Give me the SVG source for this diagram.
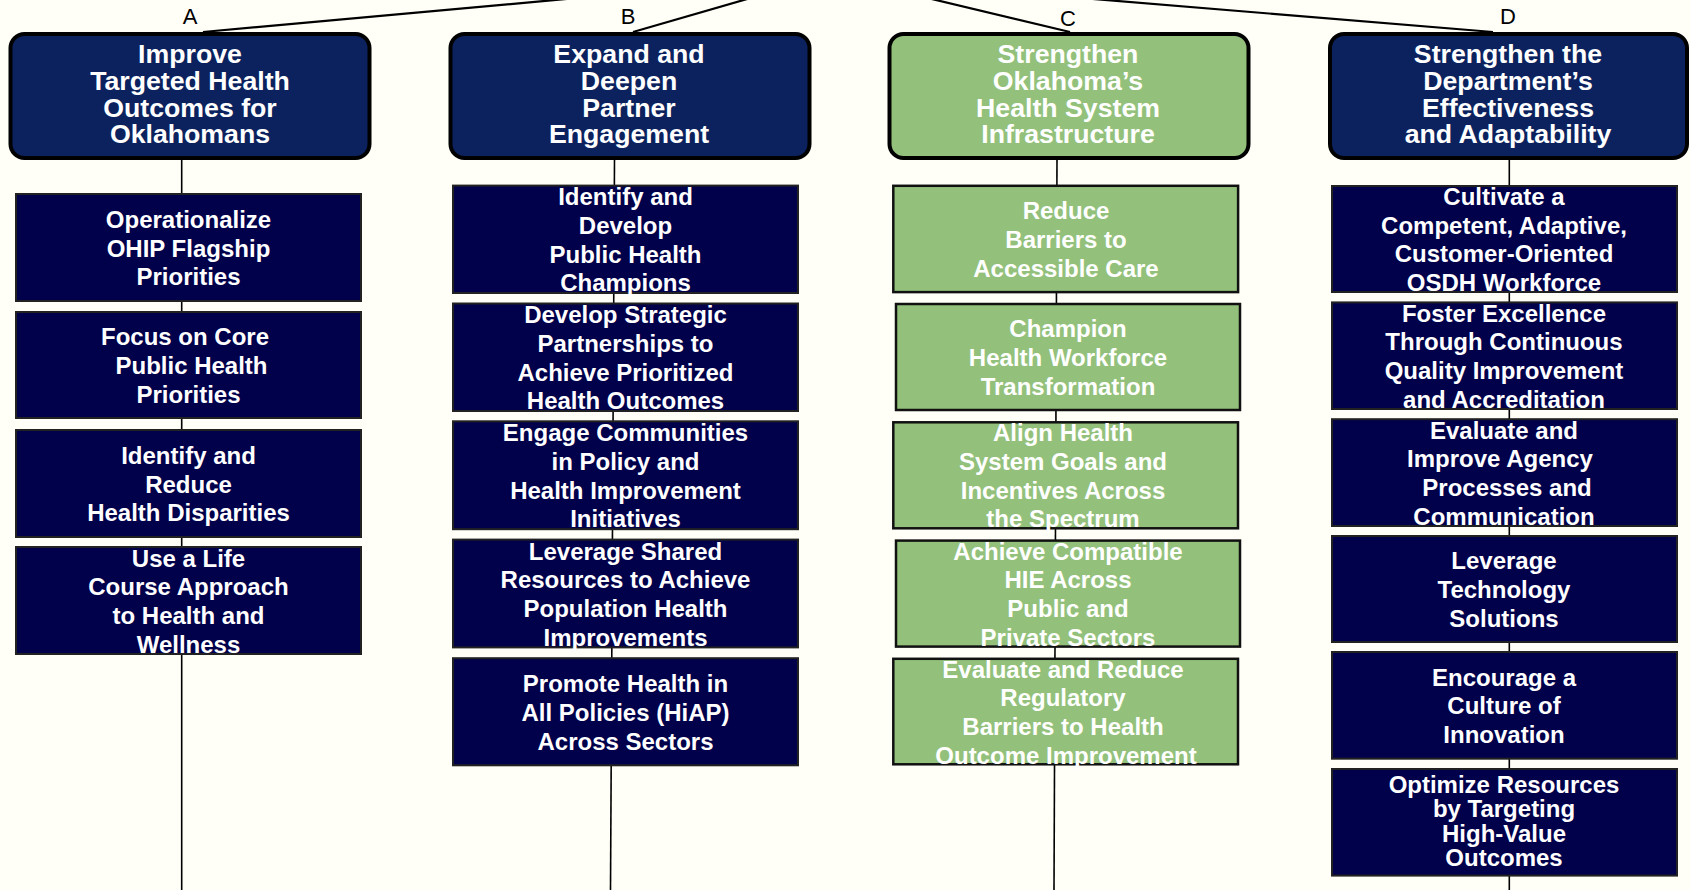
<svg xmlns="http://www.w3.org/2000/svg" width="1690" height="890" viewBox="0 0 1690 890">
<style>
.bg{fill:#FFFFF8}
.hdr{fill:#0B225E;stroke:#000;stroke-width:4}
.hdrg{fill:#93C17B;stroke:#000;stroke-width:4}
.box{fill:#00004B;stroke:#222;stroke-width:2}
.gbox{fill:#93C17B;stroke:#111;stroke-width:2.5}
.ht{font-family:"Liberation Sans",Arial,sans-serif;font-weight:bold;font-size:26.7px;fill:#fff;text-anchor:middle}
.bt{font-family:"Liberation Sans",Arial,sans-serif;font-weight:bold;font-size:24px;fill:#fff;text-anchor:middle}
.lbl{font-family:"Liberation Sans",Arial,sans-serif;font-size:22px;fill:#000;text-anchor:middle}
.conn line{stroke:#000;stroke-width:1.6;fill:none}
.conn .top{stroke-width:2.2}
</style>
<rect class="bg" x="0" y="0" width="1690" height="890"/>
<g id="connectors" class="conn">
<line class="top" x1="203" y1="32" x2="610" y2="-5"/>
<line class="top" x1="633" y1="32" x2="761" y2="-5"/>
<line class="top" x1="1070" y1="32" x2="915" y2="-5"/>
<line class="top" x1="1493" y1="32" x2="1045" y2="-5"/>
<line x1="181.7" y1="159" x2="181.7" y2="890"/>
<line x1="614.5" y1="159" x2="610.5" y2="890"/>
<line x1="1057" y1="159" x2="1054" y2="890"/>
<line x1="1509.3" y1="159" x2="1509.3" y2="890"/>
</g>
<g id="labels">
<text class="lbl" x="190" y="24">A</text>
<text class="lbl" x="628" y="24">B</text>
<text class="lbl" x="1068" y="26">C</text>
<text class="lbl" x="1508" y="24">D</text>
</g>
<g id="goalA">
<rect class="hdr" x="10.5" y="34" width="359" height="124" rx="14"/>
<text class="ht" x="190" y="63.3">Improve</text>
<text class="ht" x="190" y="90">Targeted Health</text>
<text class="ht" x="190" y="116.7">Outcomes for</text>
<text class="ht" x="190" y="143.4">Oklahomans</text>
</g>
<g id="goalB">
<rect class="hdr" x="450.5" y="34" width="359" height="124" rx="14"/>
<text class="ht" x="629" y="63.3">Expand and</text>
<text class="ht" x="629" y="90">Deepen</text>
<text class="ht" x="629" y="116.7">Partner</text>
<text class="ht" x="629" y="143.4">Engagement</text>
</g>
<g id="goalC">
<rect class="hdrg" x="889.5" y="34" width="359" height="124" rx="14"/>
<text class="ht" x="1068" y="63.3">Strengthen</text>
<text class="ht" x="1068" y="90">Oklahoma’s</text>
<text class="ht" x="1068" y="116.7">Health System</text>
<text class="ht" x="1068" y="143.4">Infrastructure</text>
</g>
<g id="goalD">
<rect class="hdr" x="1330" y="34" width="357" height="124" rx="14"/>
<text class="ht" x="1508" y="63.3">Strengthen the</text>
<text class="ht" x="1508" y="90">Department’s</text>
<text class="ht" x="1508" y="116.7">Effectiveness</text>
<text class="ht" x="1508" y="143.4">and Adaptability</text>
</g>
<g id="a1">
<rect class="box" x="16" y="194" width="345" height="107"/>
<text class="bt" x="188.5" y="227.8">Operationalize</text>
<text class="bt" x="188.5" y="256.5">OHIP Flagship</text>
<text class="bt" x="188.5" y="285.2">Priorities</text>
</g>
<g id="a2">
<rect class="box" x="16" y="312" width="345" height="106"/>
<text class="bt" x="185" y="345.3">Focus on Core</text>
<text class="bt" x="191.5" y="374">Public Health</text>
<text class="bt" x="188.5" y="402.7">Priorities</text>
</g>
<g id="a3">
<rect class="box" x="16" y="430" width="345" height="107"/>
<text class="bt" x="188.5" y="463.8">Identify and</text>
<text class="bt" x="188.5" y="492.5">Reduce</text>
<text class="bt" x="188.5" y="521.2">Health Disparities</text>
</g>
<g id="a4">
<rect class="box" x="16" y="547" width="345" height="107"/>
<text class="bt" x="188.5" y="566.5">Use a Life</text>
<text class="bt" x="188.5" y="595.2">Course Approach</text>
<text class="bt" x="188.5" y="623.9">to Health and</text>
<text class="bt" x="188.5" y="652.6">Wellness</text>
</g>
<g id="b1">
<rect class="box" x="453" y="185.6" width="345" height="107.4"/>
<text class="bt" x="625.5" y="205.3">Identify and</text>
<text class="bt" x="625.5" y="234">Develop</text>
<text class="bt" x="625.5" y="262.7">Public Health</text>
<text class="bt" x="625.5" y="291.4">Champions</text>
</g>
<g id="b2">
<rect class="box" x="453" y="303.5" width="345" height="107.5"/>
<text class="bt" x="625.5" y="323.2">Develop Strategic</text>
<text class="bt" x="625.5" y="351.9">Partnerships to</text>
<text class="bt" x="625.5" y="380.6">Achieve Prioritized</text>
<text class="bt" x="625.5" y="409.3">Health Outcomes</text>
</g>
<g id="b3">
<rect class="box" x="453" y="421.3" width="345" height="107.9"/>
<text class="bt" x="625.5" y="441.2">Engage Communities</text>
<text class="bt" x="625.5" y="469.9">in Policy and</text>
<text class="bt" x="625.5" y="498.6">Health Improvement</text>
<text class="bt" x="625.5" y="527.3">Initiatives</text>
</g>
<g id="b4">
<rect class="box" x="453" y="539.6" width="345" height="107.8"/>
<text class="bt" x="625.5" y="559.5">Leverage Shared</text>
<text class="bt" x="625.5" y="588.2">Resources to Achieve</text>
<text class="bt" x="625.5" y="616.9">Population Health</text>
<text class="bt" x="625.5" y="645.6">Improvements</text>
</g>
<g id="b5">
<rect class="box" x="453" y="658.2" width="345" height="107.1"/>
<text class="bt" x="625.5" y="692">Promote Health in</text>
<text class="bt" x="625.5" y="720.8">All Policies (HiAP)</text>
<text class="bt" x="625.5" y="749.5">Across Sectors</text>
</g>
<g id="c1">
<rect class="gbox" x="893.3" y="185.8" width="344.8" height="106.3"/>
<text class="bt" x="1066" y="219.3">Reduce</text>
<text class="bt" x="1066" y="248">Barriers to</text>
<text class="bt" x="1066" y="276.7">Accessible Care</text>
</g>
<g id="c2">
<rect class="gbox" x="896" y="304" width="344" height="106"/>
<text class="bt" x="1068" y="337.3">Champion</text>
<text class="bt" x="1068" y="366">Health Workforce</text>
<text class="bt" x="1068" y="394.7">Transformation</text>
</g>
<g id="c3">
<rect class="gbox" x="893.3" y="422.3" width="344.7" height="106"/>
<text class="bt" x="1063" y="441.2">Align Health</text>
<text class="bt" x="1063" y="469.9">System Goals and</text>
<text class="bt" x="1063" y="498.6">Incentives Across</text>
<text class="bt" x="1063" y="527.3">the Spectrum</text>
</g>
<g id="c4">
<rect class="gbox" x="896" y="540.6" width="344" height="106"/>
<text class="bt" x="1068" y="559.5">Achieve Compatible</text>
<text class="bt" x="1068" y="588.2">HIE Across</text>
<text class="bt" x="1068" y="616.9">Public and</text>
<text class="bt" x="1068" y="645.6">Private Sectors</text>
</g>
<g id="c5">
<rect class="gbox" x="893.3" y="658.8" width="344.7" height="105.5"/>
<text class="bt" x="1063" y="677.5">Evaluate and Reduce</text>
<text class="bt" x="1063" y="706.2">Regulatory</text>
<text class="bt" x="1063" y="734.9">Barriers to Health</text>
<text class="bt" x="1066" y="763.6">Outcome Improvement</text>
</g>
<g id="d1">
<rect class="box" x="1332" y="186" width="345" height="106"/>
<text class="bt" x="1504" y="205">Cultivate a</text>
<text class="bt" x="1504" y="233.7">Competent, Adaptive,</text>
<text class="bt" x="1504" y="262.4">Customer-Oriented</text>
<text class="bt" x="1504" y="291.1">OSDH Workforce</text>
</g>
<g id="d2">
<rect class="box" x="1332" y="302.4" width="345" height="106.6"/>
<text class="bt" x="1504" y="321.7">Foster Excellence</text>
<text class="bt" x="1504" y="350.4">Through Continuous</text>
<text class="bt" x="1504" y="379.1">Quality Improvement</text>
<text class="bt" x="1504" y="407.8">and Accreditation</text>
</g>
<g id="d3">
<rect class="box" x="1332" y="419.2" width="345" height="106.8"/>
<text class="bt" x="1504" y="438.6">Evaluate and</text>
<text class="bt" x="1500" y="467.3">Improve Agency</text>
<text class="bt" x="1507" y="496">Processes and</text>
<text class="bt" x="1504" y="524.7">Communication</text>
</g>
<g id="d4">
<rect class="box" x="1332" y="536" width="345" height="106"/>
<text class="bt" x="1504" y="569.3">Leverage</text>
<text class="bt" x="1504" y="598">Technology</text>
<text class="bt" x="1504" y="626.7">Solutions</text>
</g>
<g id="d5">
<rect class="box" x="1332" y="652" width="345" height="106.7"/>
<text class="bt" x="1504" y="685.7">Encourage a</text>
<text class="bt" x="1504" y="714.4">Culture of</text>
<text class="bt" x="1504" y="743.1">Innovation</text>
</g>
<g id="d6">
<rect class="box" x="1332" y="769" width="345" height="106.6"/>
<text class="bt" x="1504" y="792.5">Optimize Resources</text>
<text class="bt" x="1504" y="817.2">by Targeting</text>
<text class="bt" x="1504" y="841.8">High-Value</text>
<text class="bt" x="1504" y="866.4">Outcomes</text>
</g>
</svg>
